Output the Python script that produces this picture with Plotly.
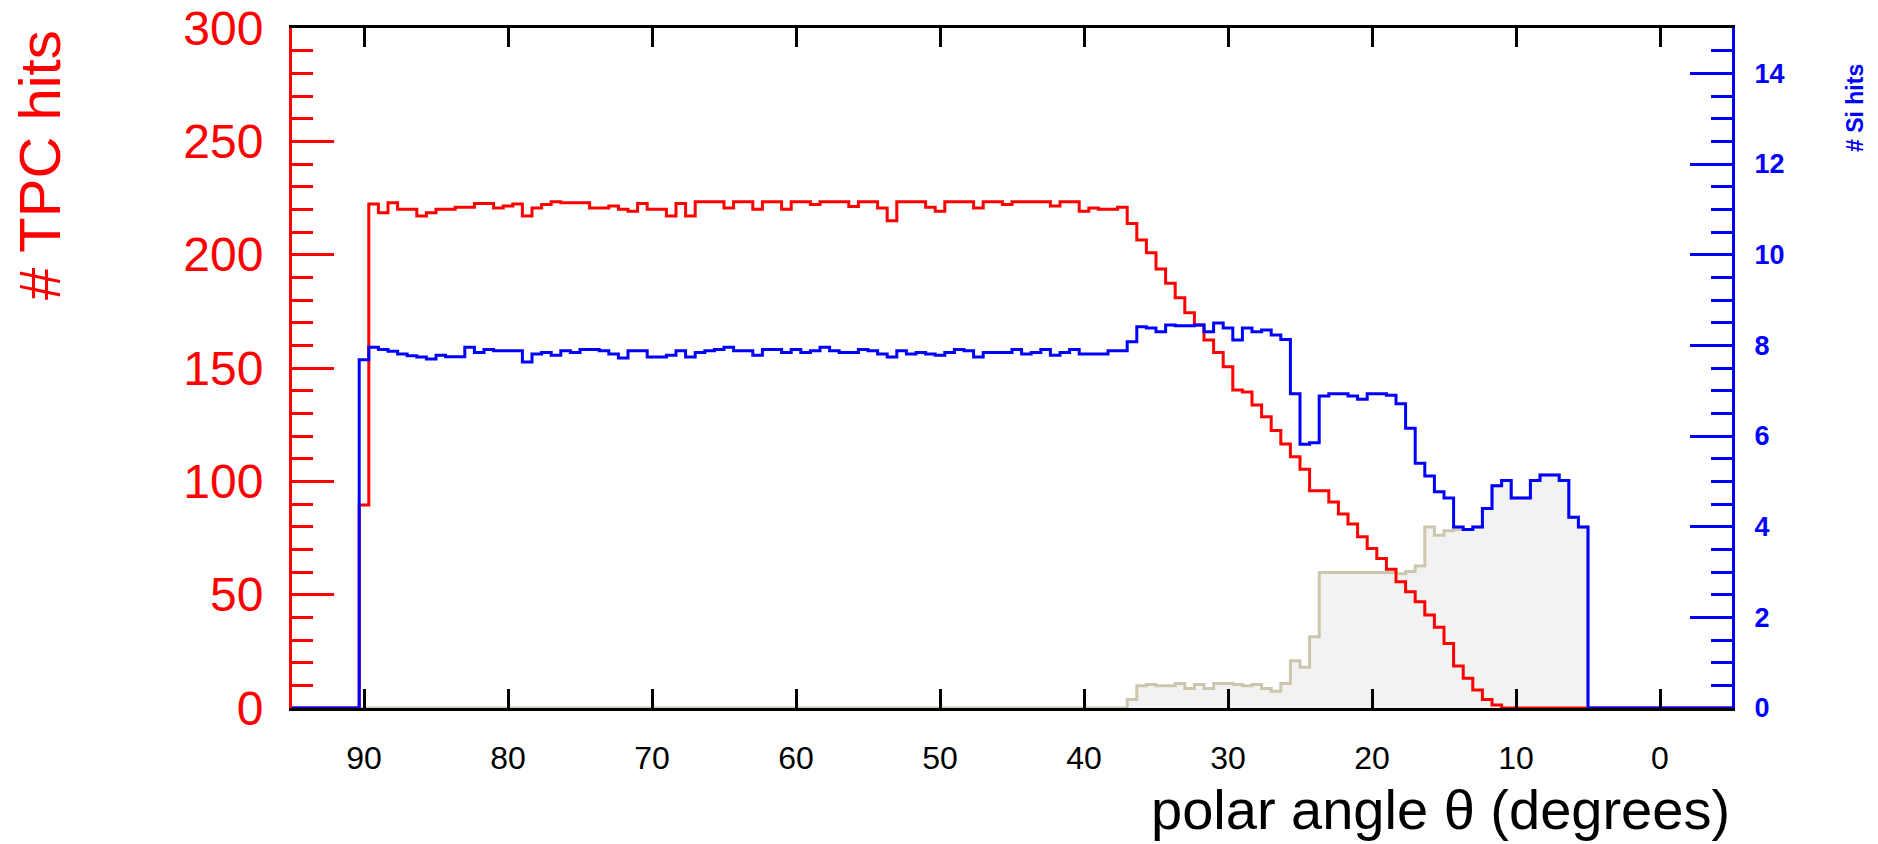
import plotly.graph_objects as go

# Histogram binning (polar angle, degrees)
theta_min = -5.0
theta_max = 95.0
n_bins = 150

# Bin contents, bin 0 = lowest angle (-5 deg) ... bin 149 = highest (95 deg)
tpc_hits = [
    0, 0, 0, 0, 0, 0, 0, 0, 0, 0,
    0, 0, 0, 0, 0, 0, 0, 0, 0, 0,
    0, 0, 0, 0, 1.3, 3.8, 7.9, 13.1, 18.5, 28.5,
    35.6, 41.0, 46.9, 51.3, 55.7, 61.2, 66.0, 70.4, 75.6, 81.2,
    85.6, 90.9, 95.9, 95.9, 105.3, 110.9, 116.5, 122.4, 128.5, 133.7,
    139.4, 140.3, 150.6, 156.8, 162.4, 169.0, 174.4, 181.0, 187.4, 193.7,
    200.9, 206.5, 213.8, 220.9, 220.0, 220.0, 220.6, 219.1, 223.4, 223.4,
    221.5, 223.4, 223.4, 223.4, 223.4, 222.1, 223.4, 223.4, 220.6, 223.4,
    223.4, 223.4, 219.1, 220.9, 223.4, 223.4, 223.4, 215.0, 220.6, 223.4,
    223.4, 221.2, 223.4, 223.4, 223.4, 222.1, 223.4, 223.4, 220.0, 223.4,
    223.4, 220.0, 223.4, 223.4, 220.6, 223.4, 223.4, 223.4, 217.1, 222.6,
    217.1, 220.0, 220.0, 222.6, 219.1, 220.0, 221.5, 220.6, 220.6, 222.9,
    222.9, 222.9, 223.4, 222.1, 220.6, 217.1, 222.4, 221.5, 220.6, 222.6,
    222.6, 220.9, 220.9, 220.0, 220.0, 218.5, 217.1, 220.0, 220.0, 222.9,
    218.5, 222.4, 89.6, 0, 0, 0, 0, 0, 0, 0,
]

si_hits = [
    0, 0, 0, 0, 0, 0, 0, 0, 0, 0,
    0, 0, 0, 0, 0, 3.99, 4.21, 5.02, 5.14, 5.14,
    5.02, 4.63, 4.63, 5.02, 4.90, 4.40, 3.99, 3.94, 3.99, 4.63,
    4.77, 5.12, 5.40, 6.17, 6.71, 6.90, 6.93, 6.93, 6.81, 6.88,
    6.93, 6.93, 6.88, 5.85, 5.82, 6.93, 8.13, 8.23, 8.34, 8.30,
    8.38, 8.12, 8.38, 8.49, 8.30, 8.45, 8.43, 8.43, 8.45, 8.30,
    8.38, 8.41, 8.08, 7.88, 7.88, 7.81, 7.81, 7.81, 7.91, 7.84,
    7.78, 7.91, 7.84, 7.81, 7.91, 7.84, 7.84, 7.84, 7.74, 7.88,
    7.91, 7.84, 7.78, 7.81, 7.84, 7.81, 7.88, 7.74, 7.81, 7.88,
    7.91, 7.84, 7.84, 7.88, 7.96, 7.88, 7.84, 7.91, 7.84, 7.91,
    7.91, 7.78, 7.88, 7.88, 7.96, 7.91, 7.88, 7.84, 7.74, 7.88,
    7.78, 7.74, 7.74, 7.88, 7.88, 7.72, 7.81, 7.88, 7.91, 7.91,
    7.84, 7.88, 7.78, 7.84, 7.81, 7.63, 7.88, 7.88, 7.88, 7.91,
    7.84, 7.96, 7.75, 7.75, 7.78, 7.70, 7.74, 7.77, 7.81, 7.87,
    7.91, 7.96, 7.68, 0, 0, 0, 0, 0, 0, 0,
]

si_forward_hits = [
    0, 0, 0, 0, 0, 0, 0, 0, 0, 0,
    0, 0, 0, 0, 0, 3.99, 4.21, 5.02, 5.14, 5.14,
    5.02, 4.63, 4.63, 5.02, 4.90, 4.40, 3.99, 3.94, 3.94, 3.91,
    3.81, 3.99, 3.13, 3.01, 2.96, 2.99, 2.99, 2.99, 2.99, 2.99,
    2.99, 2.99, 2.99, 1.57, 0.90, 1.04, 0.54, 0.37, 0.43, 0.52,
    0.49, 0.52, 0.54, 0.54, 0.43, 0.52, 0.43, 0.54, 0.49, 0.49,
    0.52, 0.49, 0.19, 0, 0, 0, 0, 0, 0, 0,
    0, 0, 0, 0, 0, 0, 0, 0, 0, 0,
    0, 0, 0, 0, 0, 0, 0, 0, 0, 0,
    0, 0, 0, 0, 0, 0, 0, 0, 0, 0,
    0, 0, 0, 0, 0, 0, 0, 0, 0, 0,
    0, 0, 0, 0, 0, 0, 0, 0, 0, 0,
    0, 0, 0, 0, 0, 0, 0, 0, 0, 0,
    0, 0, 0, 0, 0, 0, 0, 0, 0, 0,
    0, 0, 0, 0, 0, 0, 0, 0, 0, 0,
]

x_ticks = [90, 80, 70, 60, 50, 40, 30, 20, 10, 0]
tpc_ticks = [0, 50, 100, 150, 200, 250, 300]
si_ticks = [0, 2, 4, 6, 8, 10, 12, 14]

assert len(tpc_hits) == n_bins and len(si_hits) == n_bins and len(si_forward_hits) == n_bins

bw = (theta_max - theta_min) / n_bins
edges = [theta_min + i * bw for i in range(n_bins + 1)]


def step(vals):
    return edges, list(vals) + [vals[-1]]


FONT = "Liberation Sans, Arial, Helvetica, sans-serif"
RED = "#ff0000"
BLUE = "#0000ff"
TAN = "rgb(204,199,172)"

fig = go.Figure()

xs, ys = step(si_forward_hits)
fig.add_trace(go.Scatter(x=xs, y=ys, mode="lines", line=dict(shape="hv", color=TAN, width=3),
                         fill="tozeroy", fillcolor="#f2f2f2", yaxis="y", showlegend=False))
xs, ys = step(tpc_hits)
fig.add_trace(go.Scatter(x=xs, y=ys, mode="lines", line=dict(shape="hv", color=RED, width=3),
                         yaxis="y2", showlegend=False))
xs, ys = step(si_hits)
fig.add_trace(go.Scatter(x=xs, y=ys, mode="lines", line=dict(shape="hv", color=BLUE, width=3),
                         yaxis="y3", showlegend=False))

fig.update_layout(
    template="none",
    width=1878, height=844,
    margin=dict(l=292, r=146, t=28, b=136, autoexpand=False),
    paper_bgcolor="white", plot_bgcolor="white",
    font=dict(family=FONT),
    showlegend=False,
    xaxis=dict(
        range=[theta_max, theta_min], showgrid=False, zeroline=False, automargin=False,
        showline=True, linecolor="black", linewidth=3, mirror="ticks",
        ticks="inside", ticklen=19, tickwidth=3, tickcolor="black",
        tickvals=x_ticks, ticktext=[str(t) for t in x_ticks],
        tickfont=dict(size=32, color="black", family=FONT),
        ticklabelstandoff=20,
    ),
    yaxis=dict(
        side="right", range=[0, 15], showgrid=False, zeroline=False, automargin=False,
        showline=True, linecolor=BLUE, linewidth=3,
        ticks="inside", ticklen=42, tickwidth=3, tickcolor=BLUE,
        tickvals=si_ticks, ticktext=[str(t) for t in si_ticks],
        minor=dict(dtick=0.5, tick0=0, ticklen=21, tickwidth=3, tickcolor=BLUE, ticks="inside", showgrid=False),
        tickfont=dict(size=27, color=BLUE, family=FONT, weight="bold"),
        ticklabelstandoff=14,
    ),
    yaxis2=dict(
        side="left", overlaying="y", range=[0, 300], showgrid=False, zeroline=False, automargin=False,
        showline=True, linecolor=RED, linewidth=3,
        ticks="inside", ticklen=42, tickwidth=3, tickcolor=RED,
        tickvals=tpc_ticks, ticktext=[str(t) for t in tpc_ticks],
        minor=dict(dtick=10, tick0=0, ticklen=21, tickwidth=3, tickcolor=RED, ticks="inside", showgrid=False),
        tickfont=dict(size=48, color=RED, family=FONT),
        ticklabelstandoff=16,
    ),
    yaxis3=dict(overlaying="y", range=[0, 15], visible=False, automargin=False),
)

# Axis titles
fig.add_annotation(text="# TPC hits", xref="paper", yref="paper",
                   x=(40 - 292) / 1440, y=(708 - 165) / 680, textangle=-90,
                   showarrow=False, xanchor="center", yanchor="middle",
                   font=dict(size=58, color=RED, family=FONT))
fig.add_annotation(text="# Si hits", xref="paper", yref="paper",
                   x=(1855 - 292) / 1440, y=(708 - 108) / 680, textangle=-90,
                   showarrow=False, xanchor="center", yanchor="middle",
                   font=dict(size=23, color=BLUE, family=FONT, weight="bold"))
fig.add_annotation(text="polar angle θ (degrees)", xref="paper", yref="paper",
                   x=1.0, y=(708 - 810) / 680, showarrow=False,
                   xanchor="right", yanchor="middle",
                   font=dict(size=56, color="black", family=FONT))

fig.write_html("out.html")
